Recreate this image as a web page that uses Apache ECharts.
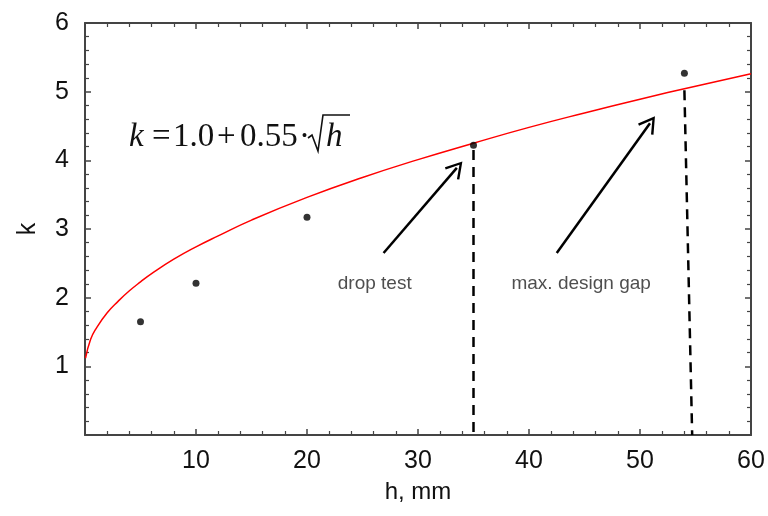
<!DOCTYPE html>
<html><head><meta charset="utf-8">
<script src="https://cdn.jsdelivr.net/npm/echarts@6/dist/echarts.min.js"></script>
<style>html,body{margin:0;padding:0;background:#fff}#c{width:768px;height:516px}</style>
</head><body><div id="c"></div>
<script>
// measured points (h, k)
const pointsH = [5, 10, 20, 35, 54];
const pointsK = [1.65, 2.21, 3.17, 4.22, 5.27];
// red fit curve (h, k)
const curveH = [0.05, 0.5, 1, 2, 3, 4, 5, 6, 8, 10, 12, 15, 20, 25, 30, 35, 40, 45, 50, 55, 60];
const curveK = [1.12, 1.39, 1.55, 1.78, 1.95, 2.1, 2.23, 2.35, 2.56, 2.74, 2.9, 3.13, 3.46, 3.75, 4.01, 4.25, 4.48, 4.69, 4.89, 5.08, 5.26];
// dashed markers
const dash1 = [[35, 4.15], [35, 0]];
const dash2 = [[54.0, 5.02], [54.7, 0]];
// arrows [from, to]
const arrow1 = [[26.9, 2.65], [33.5, 3.89]];
const arrow2 = [[42.5, 2.65], [50.9, 4.54]];
// text labels [h, k, text]
const labels = [[26.1, 2.2, 'drop test'], [44.7, 2.2, 'max. design gap']];
const xTicks = [10, 20, 30, 40, 50, 60];
const yTicks = [1, 2, 3, 4, 5, 6];

const axisCol = '#444';
const chart = echarts.init(document.getElementById('c'));
const baseAxis = {
  type: 'value', min: 0,
  axisLine: {show: true, onZero: false, lineStyle: {color: axisCol, width: 2}},
  axisTick: {show: true, inside: true, length: 6, lineStyle: {color: axisCol, width: 1.5}},
  minorTick: {show: true, splitNumber: 5, length: 4, lineStyle: {color: axisCol, width: 1.2}},
  splitLine: {show: false}
};
const chevron = 'path://M0,0 L9,15 L7,16.2 L0,4.3 L-7,16.2 L-9,15 Z';
function arrowSeries(a) {
  return {
    type: 'line', data: a, symbol: 'none', silent: true,
    lineStyle: {color: '#000', width: 2.5},
    markLine: {
      silent: true, symbol: ['none', chevron], symbolSize: [19, 17],
      label: {show: false}, animation: false,
      lineStyle: {color: '#000', width: 0.01, type: 'solid', opacity: 1},
      data: [[{coord: a[0]}, {coord: a[1]}]]
    }
  };
}
const serif = {fontFamily: 'Liberation Serif', fontSize: 33, fill: '#111', textVerticalAlign: 'middle'};
function ftxt(x, t, italic) {
  return {type: 'text', x: x, y: 137, style: Object.assign({}, serif, {text: t, fontStyle: italic ? 'italic' : 'normal'})};
}
chart.setOption({
  animation: false,
  grid: {left: 85, right: 17, top: 23, bottom: 81},
  xAxis: [
    Object.assign({}, baseAxis, {
      max: 60, interval: 10, position: 'bottom',
      name: 'h, mm', nameLocation: 'middle', nameGap: 45,
      nameTextStyle: {fontFamily: 'Liberation Sans', fontSize: 24, color: '#111'},
      axisLabel: {fontFamily: 'Liberation Sans', fontSize: 25, color: '#111', margin: 14,
        formatter: v => xTicks.includes(v) ? String(v) : ''}
    }),
    Object.assign({}, baseAxis, {max: 60, interval: 10, position: 'top', axisLabel: {show: false}})
  ],
  yAxis: [
    Object.assign({}, baseAxis, {
      max: 6, interval: 1, position: 'left',
      name: 'k', nameLocation: 'middle', nameGap: 44, nameRotate: 90,
      nameTextStyle: {fontFamily: 'Liberation Sans', fontSize: 25, color: '#111'},
      axisLabel: {fontFamily: 'Liberation Sans', fontSize: 25, color: '#111', margin: 16,
        formatter: v => yTicks.includes(v) ? String(v) : ''}
    }),
    Object.assign({}, baseAxis, {max: 6, interval: 1, position: 'right', axisLabel: {show: false}})
  ],
  series: [
    {type: 'line', data: curveH.map((h, i) => [h, curveK[i]]), symbol: 'none', smooth: true,
      lineStyle: {color: '#ff0000', width: 1.5}, z: 3},
    {type: 'line', data: dash1, symbol: 'none', lineStyle: {color: '#000', width: 2.5, type: [10, 7]}},
    {type: 'line', data: dash2, symbol: 'none', lineStyle: {color: '#000', width: 2.5, type: [10, 7]}},
    arrowSeries(arrow1),
    arrowSeries(arrow2),
    {type: 'scatter', data: pointsH.map((h, i) => [h, pointsK[i]]), symbolSize: 7,
      itemStyle: {color: '#000'}, z: 5},
    {type: 'scatter', data: labels.map(l => [l[0], l[1], l[2]]), symbolSize: 0,
      label: {show: true, position: 'inside', formatter: p => p.data[2],
        fontFamily: 'Liberation Sans', fontSize: 19, color: '#222'}}
  ],
  graphic: [
    ftxt(129, 'k', true),
    ftxt(152, '=', false),
    ftxt(173, '1.0', false),
    ftxt(217, '+', false),
    ftxt(240, '0.55', false),
    ftxt(299, '·', false),
    ftxt(326, 'h', true),
    {type: 'polyline', shape: {points: [[308, 138], [312, 135], [318, 151], [323, 115], [350, 115]]},
      style: {stroke: '#111', lineWidth: 1.6, fill: null}}
  ]
});
</script></body></html>
